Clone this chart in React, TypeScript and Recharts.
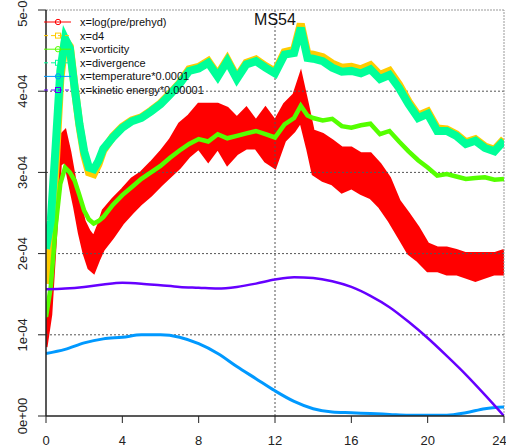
import React from 'react';
import {
	Area,
	ComposedChart,
	Line,
	ReferenceLine,
	XAxis,
	YAxis,
} from 'recharts';

// all values are in units of 1e-04
const hours = [
	0, 0.25, 0.5, 0.75, 1, 1.25, 1.5, 1.75, 2, 2.25, 2.5, 2.75,
	3, 3.5, 4, 4.5, 5, 5.5, 6, 6.5, 7, 7.5,
	8, 8.5, 9, 9.5, 10, 10.5, 11, 11.5, 12, 12.5,
	13, 13.35, 13.7, 14, 14.5, 15, 15.5, 16, 16.5, 17,
	17.5, 18, 18.5, 19, 19.5, 20, 20.5, 21, 21.5, 22,
	22.5, 23, 23.5, 24,
];

// log(pre/prehyd) is very noisy, kept as a low/high envelope
const logPreLow = [
	0.85, 1.25, 2.2, 3.1, 3.14, 2.85, 2.57, 2.25, 2.0, 1.82, 1.77, 1.92,
	2.05, 2.2, 2.37, 2.5, 2.62, 2.72, 2.84, 2.95, 3.06, 3.2,
	3.3, 3.14, 3.3, 3.1, 3.23, 3.3, 3.3, 3.14, 3.06, 3.39,
	3.51, 3.63, 3.3, 2.98, 2.9, 2.86, 2.76, 2.81, 2.74, 2.69,
	2.57, 2.4, 2.2, 2.0, 1.91, 1.79, 1.79, 1.75, 1.75, 1.71,
	1.67, 1.71, 1.75, 1.75,
];
const logPreHigh = [
	1.05, 1.5, 2.55, 3.45, 3.51, 3.25, 2.92, 2.65, 2.4, 2.28, 2.2, 2.35,
	2.53, 2.67, 2.79, 2.92, 3.0, 3.12, 3.25, 3.4, 3.6, 3.7,
	3.84, 3.84, 3.84, 3.79, 3.67, 3.79, 3.63, 3.79, 3.63, 3.84,
	3.96, 4.21, 3.84, 3.51, 3.47, 3.39, 3.3, 3.3, 3.23, 3.23,
	3.1, 2.93, 2.65, 2.49, 2.32, 2.12, 2.07, 2.07, 2.04, 2.0,
	2.0, 2.0, 2.0, 2.04,
];
const d4 = [
	1.63, 2.1, 3.05, 4.15, 4.63, 4.55, 4.05, 3.58, 3.22, 3.0, 2.98, 3.1,
	3.27, 3.44, 3.56, 3.64, 3.68, 3.76, 3.85, 3.97, 4.1, 4.27,
	4.3, 4.37, 4.2, 4.39, 4.17, 4.35, 4.39, 4.31, 4.24, 4.48,
	4.51, 4.83, 4.46, 4.45, 4.42, 4.34, 4.29, 4.3, 4.27, 4.32,
	4.2, 4.25, 4.08, 3.87, 3.7, 3.75, 3.54, 3.53, 3.47, 3.37,
	3.41, 3.32, 3.28, 3.41,
];
const vorticity = [
	1.22, 1.59, 2.32, 2.86, 3.06, 3.0, 2.9, 2.72, 2.53, 2.42, 2.37, 2.4,
	2.45, 2.6, 2.72, 2.82, 2.92, 3.0, 3.08, 3.18, 3.27, 3.35,
	3.41, 3.38, 3.47, 3.42, 3.45, 3.48, 3.51, 3.47, 3.43, 3.59,
	3.67, 3.82, 3.7, 3.67, 3.64, 3.66, 3.57, 3.55, 3.58, 3.6,
	3.47, 3.51, 3.38, 3.26, 3.15, 3.06, 2.96, 2.98, 2.95, 2.92,
	2.93, 2.94, 2.91, 2.92,
];
const divergence = [
	2.06, 2.4, 3.3, 4.25, 4.65, 4.53, 4.04, 3.6, 3.26, 3.06, 3.04, 3.14,
	3.29, 3.43, 3.55, 3.63, 3.67, 3.75, 3.84, 3.96, 4.09, 4.25,
	4.28, 4.35, 4.18, 4.37, 4.15, 4.33, 4.37, 4.29, 4.22, 4.45,
	4.47, 4.78, 4.41, 4.4, 4.37, 4.29, 4.24, 4.25, 4.22, 4.27,
	4.15, 4.2, 4.04, 3.84, 3.67, 3.72, 3.51, 3.51, 3.45, 3.35,
	3.39, 3.3, 3.26, 3.39,
];

// smooth series, sampled hourly
const smoothHours = [
	0, 1, 2, 3, 4, 5, 6, 7, 8, 9, 10, 11, 12,
	13, 14, 15, 16, 17, 18, 19, 20, 21, 22, 23, 24,
];
const temperature = [
	0.77, 0.82, 0.9, 0.95, 0.97, 1.0, 1.0, 0.97, 0.89, 0.77, 0.61, 0.46, 0.31,
	0.18, 0.09, 0.05, 0.04, 0.03, 0.02, 0.01, 0.01, 0.01, 0.04, 0.09, 0.11,
];
const kineticEnergy = [
	1.56, 1.57, 1.59, 1.62, 1.64, 1.63, 1.61, 1.59, 1.58, 1.57, 1.59, 1.63, 1.68,
	1.71, 1.7, 1.66, 1.59, 1.48, 1.34, 1.16, 0.96, 0.74, 0.51, 0.26, 0.0,
];

const xTicks = [0, 4, 8, 12, 16, 20, 24];
const yTicks = [0, 1, 2, 3, 4, 5];
const gridY = [1, 2, 3, 4];

const legendItems = [
	{ label: 'x=log(pre/prehyd)', color: '#ff0000', dashed: false, square: false },
	{ label: 'x=d4', color: '#ffcc00', dashed: true, square: true },
	{ label: 'x=vorticity', color: '#55ff00', dashed: false, square: false },
	{ label: 'x=divergence', color: '#00ff99', dashed: true, square: true },
	{ label: 'x=temperature*0.0001', color: '#0099ff', dashed: false, square: false },
	{ label: 'x=kinetic energy*0.00001', color: '#6600ff', dashed: true, square: true },
];

const table = hours.map((t, i) => ({
	t,
	logPre: [logPreLow[i], logPreHigh[i]],
	d4: d4[i],
	vorticity: vorticity[i],
	divergence: divergence[i],
}));

const smoothTable = smoothHours.map((t, i) => ({
	t,
	temperature: temperature[i],
	kinetic: kineticEnergy[i],
}));

const AXIS_FONT = '"Liberation Sans Narrow", "Liberation Sans", Arial, sans-serif';
const TEXT_FONT = '"Liberation Sans", Arial, sans-serif';

function YTick({ y, payload }: { y: number; payload: { value: number } }) {
	const v = payload.value;
	const label = v === 0 ? '0e+00' : `${v}e-04`;
	return (
		<text
			x={27}
			y={y}
			transform={`rotate(-90, 27, ${y})`}
			textAnchor="middle"
			fontSize={13}
			fontFamily={AXIS_FONT}
			fill="#222"
		>
			{label}
		</text>
	);
}

function Overlay() {
	return (
		<svg
			width={506}
			height={448}
			style={{ position: 'absolute', left: 0, top: 0, pointerEvents: 'none' }}
		>
			<text x={275} y={25} textAnchor="middle" fontSize={16} fontFamily={TEXT_FONT} fill="#111">
				MS54
			</text>
			{legendItems.map((item, i) => {
				const cy = 22 + i * 13.6;
				return (
					<g key={item.label}>
						<line
							x1={44}
							x2={71}
							y1={cy}
							y2={cy}
							stroke={item.color}
							strokeWidth={1}
							strokeDasharray={item.dashed ? '4 3' : undefined}
						/>
						{item.square ? (
							<rect x={55.5} y={cy - 2.5} width={5} height={5} fill="none" stroke={item.color} strokeWidth={1} />
						) : (
							<circle cx={58} cy={cy} r={2.7} fill="none" stroke={item.color} strokeWidth={1} />
						)}
						<text x={80} y={cy + 4} fontSize={11} fontFamily={TEXT_FONT} fill="#111">
							{item.label}
						</text>
					</g>
				);
			})}
		</svg>
	);
}

export default function App() {
	return (
		<div style={{ position: 'absolute', left: 0, top: 0, width: 506, height: 448, background: '#fff' }}>
			<ComposedChart
				width={506}
				height={448}
				data={table}
				margin={{ top: 10, right: 2, bottom: 0, left: 0 }}
			>
				{gridY.map((v) => (
					<ReferenceLine key={v} y={v} stroke="#555" strokeDasharray="2 2" />
				))}
				<ReferenceLine x={12} stroke="#555" strokeDasharray="2 2" />
				<ReferenceLine y={5} stroke="#999" strokeDasharray="2 1" />
				<ReferenceLine x={24} stroke="#999" strokeDasharray="2 1" />
				<XAxis
					dataKey="t"
					type="number"
					domain={[0, 24]}
					ticks={xTicks}
					height={32}
					tickSize={7}
					tickMargin={13}
					axisLine={{ stroke: '#222', strokeWidth: 1.5 }}
					tickLine={{ stroke: '#222' }}
					tick={{ fontSize: 13, fill: '#222', fontFamily: AXIS_FONT }}
					allowDataOverflow
				/>
				<YAxis
					type="number"
					domain={[0, 5]}
					ticks={yTicks}
					width={46}
					tickSize={8}
					axisLine={{ stroke: '#222', strokeWidth: 1.5 }}
					tickLine={{ stroke: '#222' }}
					tick={(p: any) => <YTick y={p.y} payload={p.payload} />}
					allowDataOverflow
				/>
				<Area
					dataKey="logPre"
					type="linear"
					fill="#ff0000"
					fillOpacity={1}
					stroke="#ff0000"
					strokeWidth={3}
					dot={false}
					activeDot={false}
					isAnimationActive={false}
				/>
				<Line dataKey="d4" type="linear" stroke="#ffcc00" strokeWidth={8} dot={false} activeDot={false} isAnimationActive={false} />
				<Line dataKey="vorticity" type="linear" stroke="#55ff00" strokeWidth={4.5} dot={false} activeDot={false} isAnimationActive={false} />
				<Line dataKey="divergence" type="linear" stroke="#00ff99" strokeWidth={8} dot={false} activeDot={false} isAnimationActive={false} />
				<Line data={smoothTable} dataKey="temperature" type="monotone" stroke="#0099ff" strokeWidth={3} dot={false} activeDot={false} isAnimationActive={false} />
				<Line data={smoothTable} dataKey="kinetic" type="monotone" stroke="#6600ff" strokeWidth={2.5} dot={false} activeDot={false} isAnimationActive={false} />
			</ComposedChart>
			<Overlay />
		</div>
	);
}
